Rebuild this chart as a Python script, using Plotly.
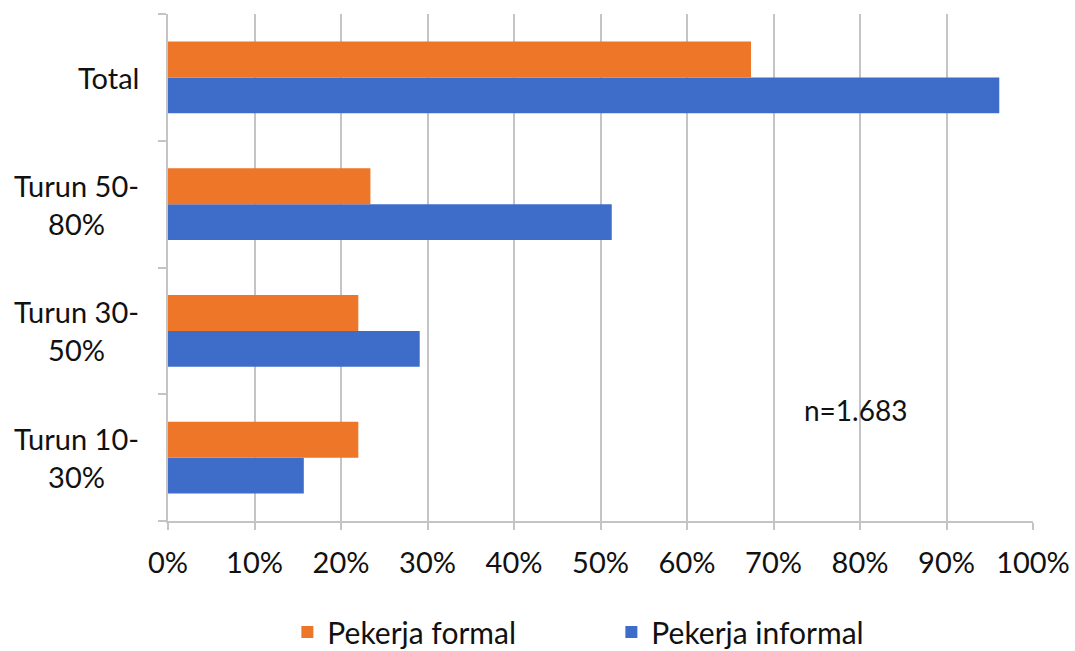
import plotly.graph_objects as go

# Categories listed bottom to top
categories = ["Turun 10-30%", "Turun 30-50%", "Turun 50-80%", "Total"]
category_labels = ["Turun 10-<br>30%", "Turun 30-<br>50%", "Turun 50-<br>80%", "Total"]

formal_pct = [22.0, 22.0, 23.4, 67.4]
informal_pct = [15.7, 29.1, 51.3, 96.1]

x_ticks = list(range(0, 101, 10))
x_tick_labels = [f"{v}%" for v in x_ticks]
note_text = "n=1.683"

FONT = "Lato, 'Open Sans', sans-serif"
ORANGE = "#EE7628"
BLUE = "#3D6DC9"
GRID = "#c4c4c4"
TEXT = "#111111"

fig = go.Figure()
# Informal is added first so it sits below the formal bar inside each group
fig.add_trace(go.Bar(
    y=categories, x=informal_pct, orientation="h", name="Pekerja informal",
    marker=dict(color=BLUE, line=dict(width=0)), legendrank=2,
))
fig.add_trace(go.Bar(
    y=categories, x=formal_pct, orientation="h", name="Pekerja formal",
    marker=dict(color=ORANGE, line=dict(width=0)), legendrank=1,
))

# Centered multi-line category labels
for cat, lab in zip(categories, category_labels):
    fig.add_annotation(
        x=0, xref="paper", y=cat, yref="y", text=lab, showarrow=False,
        xanchor="right", xshift=-27, align="center",
        font=dict(family=FONT, size=29, color=TEXT),
    )

fig.add_annotation(
    x=79.5, xref="x", y=0.219, yref="paper", text=note_text, showarrow=False,
    xanchor="center", yanchor="middle",
    font=dict(family=FONT, size=28, color=TEXT),
)

fig.update_layout(
    width=1075, height=651,
    margin=dict(l=168, r=42, t=14, b=130, autoexpand=False),
    paper_bgcolor="white", plot_bgcolor="white",
    barmode="group", bargap=0.432, bargroupgap=0,
    font=dict(family=FONT, size=30, color=TEXT),
    showlegend=True,
    legend=dict(
        orientation="h", x=0.138, xanchor="left", y=-0.219, yanchor="middle",
        entrywidth=279, entrywidthmode="pixels",
        font=dict(family=FONT, size=30, color=TEXT),
    ),
)
fig.update_xaxes(
    range=[0, 100], tickmode="array", tickvals=x_ticks, ticktext=x_tick_labels,
    showgrid=True, gridcolor=GRID, gridwidth=2,
    showline=True, linecolor=GRID, linewidth=2,
    ticks="outside", ticklen=7, tickcolor=GRID, tickwidth=2,
    zeroline=False, ticklabelstandoff=8,
    tickfont=dict(family=FONT, size=29, color=TEXT),
)
fig.update_yaxes(
    categoryorder="array", categoryarray=categories,
    showticklabels=False, showgrid=False,
    showline=True, linecolor=GRID, linewidth=2,
    ticks="outside", tickson="boundaries", ticklen=8, tickcolor=GRID, tickwidth=2,
)

fig.write_html("out.html")
